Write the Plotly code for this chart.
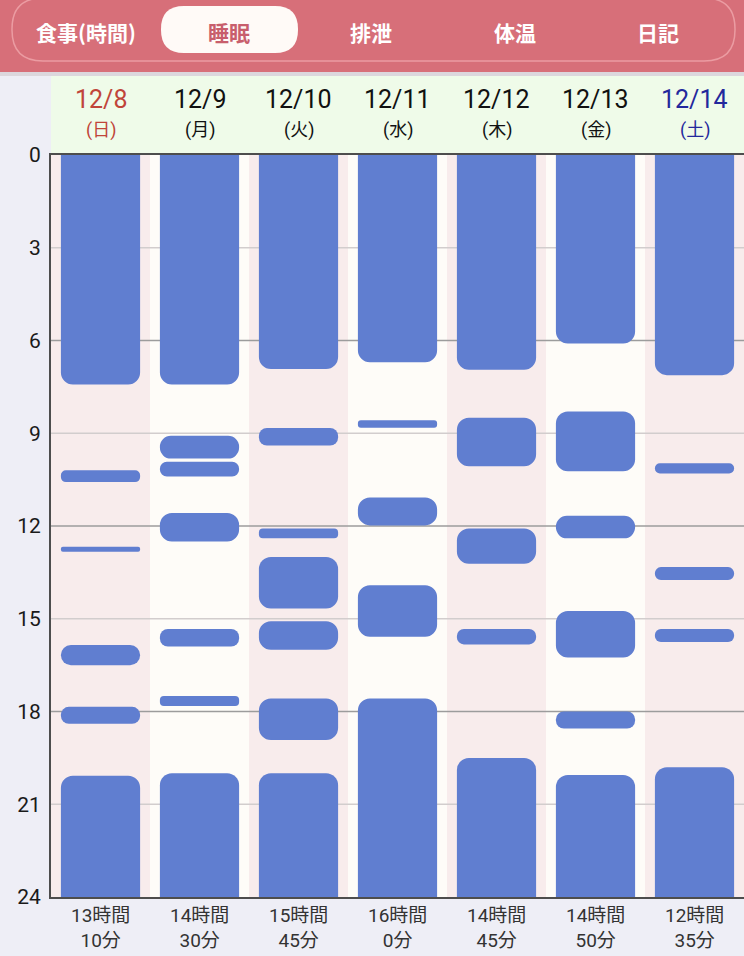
import plotly.graph_objects as go

# ---------------- data ----------------
dates = ["12/8", "12/9", "12/10", "12/11", "12/12", "12/13", "12/14"]
weekdays = ["(日)", "(月)", "(火)", "(水)", "(木)", "(金)", "(土)"]
date_colors = ["#c0453a", "#111111", "#111111", "#111111", "#111111", "#111111", "#23289c"]

# sleep periods per day (hours from 0:00)
sleep_starts = [
    [0, 10.2, 12.67, 15.85, 17.85, 20.08],
    [0, 9.08, 9.92, 11.58, 15.33, 17.5, 20.0],
    [0, 8.83, 12.08, 13.0, 15.08, 17.58, 20.0],
    [0, 8.58, 11.08, 13.92, 17.58],
    [0, 8.5, 12.08, 15.33, 19.5],
    [0, 8.3, 11.67, 14.75, 18.0, 20.05],
    [0, 9.97, 13.33, 15.33, 19.8],
]
sleep_ends = [
    [7.42, 10.58, 12.83, 16.5, 18.4, 24],
    [7.42, 9.82, 10.4, 12.5, 15.9, 17.82, 24],
    [6.92, 9.4, 12.4, 14.67, 16.0, 18.92, 24],
    [6.7, 8.82, 11.98, 15.58, 24],
    [6.95, 10.07, 13.22, 15.83, 24],
    [6.1, 10.23, 12.4, 16.25, 18.55, 24],
    [7.12, 10.3, 13.75, 15.75, 24],
]
total_hours = [13, 14, 15, 16, 14, 14, 12]
total_minutes = [10, 30, 45, 0, 45, 50, 35]

y_ticks = [0, 3, 6, 9, 12, 15, 18, 21, 24]
dark_grid = [6, 12, 18]
tabs = ["食事(時間)", "睡眠", "排泄", "体温", "日記"]
selected_tab = 1

# ---------------- geometry helpers ----------------
W, H = 744, 956
L, R, T, B = 51, 744, 155, 897


def px_x(p):
    return (p - L) / (R - L)


def px_y(p):
    return (B - p) / (B - T)


def rrect_path(x0, y0, x1, y1, r):
    pts = [
        ("M", (x0 + r, y0)), ("L", (x1 - r, y0)), ("Q", (x1, y0), (x1, y0 + r)),
        ("L", (x1, y1 - r)), ("Q", (x1, y1), (x1 - r, y1)), ("L", (x0 + r, y1)),
        ("Q", (x0, y1), (x0, y1 - r)), ("L", (x0, y0 + r)), ("Q", (x0, y0), (x0 + r, y0)),
    ]
    s = ""
    for item in pts:
        cmd = item[0]
        coords = " ".join(f"{px_x(a):.5f},{px_y(b):.5f}" for a, b in item[1:])
        s += f"{cmd}{coords} "
    return s + "Z"


# ---------------- bars ----------------
# bars touching the day boundaries run a little past the axis range so that
# their rounded ends are clipped away (square edge at 0:00 / 24:00)
edge_ext = 0.6
xs, bases, lens = [], [], []
for d, ss, ee in zip(dates, sleep_starts, sleep_ends):
    for s, e in zip(ss, ee):
        b0 = s - edge_ext if s <= 0 else s
        b1 = e + edge_ext if e >= 24 else e
        xs.append(d)
        bases.append(b0)
        lens.append(b1 - b0)

fig = go.Figure()
fig.add_trace(go.Bar(
    x=xs, y=lens, base=bases, width=0.8,
    marker=dict(color="#607ed0", cornerradius=12, line=dict(width=0)),
    hoverinfo="skip", showlegend=False,
))

shapes = []
# column backgrounds
for i, d in enumerate(dates):
    shapes.append(dict(type="rect", xref="x", yref="y", x0=i - 0.5, x1=i + 0.5,
                       y0=0, y1=24, fillcolor="#f8ecec" if i % 2 == 0 else "#fefcf8",
                       line=dict(width=0), layer="below"))
# grid lines
for v in y_ticks[1:-1]:
    shapes.append(dict(type="line", xref="x", yref="y", x0=-0.5, x1=len(dates) - 0.5,
                       y0=v, y1=v, layer="below",
                       line=dict(color="#9c9c9c" if v in dark_grid else "#d2cdcd", width=1.5)))

# top bar
shapes.append(dict(type="rect", xref="paper", yref="paper", x0=px_x(0), x1=px_x(W),
                   y0=px_y(0), y1=px_y(72), fillcolor="#d76f79", line=dict(width=0), layer="below"))
shapes.append(dict(type="rect", xref="paper", yref="paper", x0=px_x(0), x1=px_x(W),
                   y0=px_y(72), y1=px_y(76), fillcolor="#dcd7dd", line=dict(width=0), layer="below"))
shapes.append(dict(type="path", xref="paper", yref="paper", path=rrect_path(12, -2, 735, 61, 31),
                   line=dict(color="#eb9ca2", width=1.5), fillcolor="rgba(0,0,0,0)", layer="below"))
shapes.append(dict(type="path", xref="paper", yref="paper", path=rrect_path(161, 6, 298, 53, 23),
                   line=dict(width=0), fillcolor="#fffaf7", layer="below"))
# header row
shapes.append(dict(type="rect", xref="paper", yref="paper", x0=px_x(L), x1=px_x(W),
                   y0=px_y(76), y1=px_y(154), fillcolor="#effbe9", line=dict(width=0), layer="below"))

annotations = []
tab_x = [86, 229, 371, 515, 658]
for i, (t, tx) in enumerate(zip(tabs, tab_x)):
    annotations.append(dict(
        text=f"<b>{t}</b>", xref="paper", yref="paper", x=px_x(tx), y=px_y(32),
        xanchor="center", yanchor="middle", showarrow=False,
        font=dict(family="Noto Sans CJK JP", size=21,
                  color="#c85e6c" if i == selected_tab else "#ffffff")))

num_font = "Roboto, 'Noto Sans CJK JP', sans-serif"
for d, wd, c in zip(dates, weekdays, date_colors):
    annotations.append(dict(text=d, xref="x", yref="paper", x=d, y=px_y(99),
                            xanchor="center", yanchor="middle", showarrow=False,
                            font=dict(family=num_font, size=25, color=c)))
    annotations.append(dict(text=wd, xref="x", yref="paper", x=d, y=px_y(130),
                            xanchor="center", yanchor="middle", showarrow=False,
                            font=dict(family=num_font, size=18, color=c)))

for d, h, m in zip(dates, total_hours, total_minutes):
    annotations.append(dict(text=f"{h}時間<br>{m}分", xref="x", yref="paper", x=d, y=px_y(928),
                            xanchor="center", yanchor="middle", showarrow=False,
                            font=dict(family=num_font, size=19, color="#333333")))

fig.update_layout(
    width=W, height=H,
    margin=dict(l=L, r=W - R, t=T, b=H - B, pad=0),
    paper_bgcolor="#eeeef6", plot_bgcolor="#fefcf8",
    barmode="overlay", showlegend=False,
    shapes=shapes, annotations=annotations,
    xaxis=dict(type="category", categoryorder="array", categoryarray=dates,
               range=[-0.5, len(dates) - 0.5], showticklabels=False, showgrid=False,
               zeroline=False, showline=True, mirror=True, linecolor="#4d4d4d",
               linewidth=2, ticks="", fixedrange=True),
    yaxis=dict(range=[24, 0], tickvals=y_ticks, ticktext=[str(v) for v in y_ticks],
               showgrid=False, zeroline=False, showline=True, linecolor="#4d4d4d",
               linewidth=2, ticks="", ticklabelstandoff=4,
               tickfont=dict(family=num_font, size=21, color="#1a1a1a"), fixedrange=True),
)

fig.write_html("out.html")
